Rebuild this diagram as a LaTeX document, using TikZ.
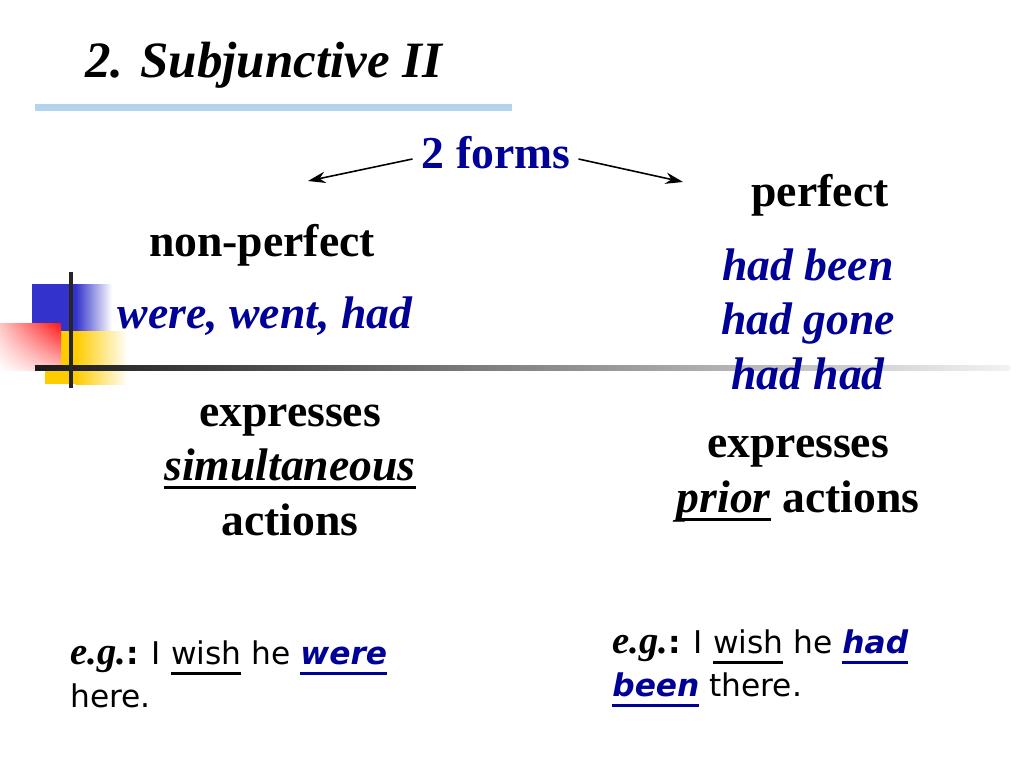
\documentclass[tikz,border=0pt]{standalone}
\usepackage{fontspec}
\setmainfont{Liberation Serif}
\newfontfamily\comicfont{DejaVu Sans}
\usetikzlibrary{arrows.meta,positioning,shadings}
\definecolor{formblue}{RGB}{0,0,150}
\definecolor{barblue} {RGB}{180,212,238}
\definecolor{sqblue}  {RGB}{51,51,204}
\definecolor{sqyellow}{RGB}{255,204,0}
\definecolor{sqred}   {RGB}{255,20,20}
% underline with a rule of our own
\newcommand\thickul[3][5pt]{\sbox0{#3}\rlap{\rule[-#1]{\wd0}{#2}}\usebox0}
\newcommand\egmark{{\rmfamily\bfseries\itshape\fontsize{22}{24}\selectfont e.g.}{\bfseries:}}

\begin{document}
\begin{tikzpicture}[
  x=0.02cm, y=-0.02cm,
  title/.style={font=\fontsize{29}{34}\selectfont\bfseries\itshape,
    anchor=base west, inner sep=0},
  head/.style={font=\fontsize{26}{31}\selectfont\bfseries,
    inner sep=0, align=center},
  verbs/.style={head, text=formblue,
    font=\fontsize{26}{31}\selectfont\bfseries\itshape},
  example/.style={font=\comicfont\fontsize{17.8}{24.5}\selectfont,
    inner sep=0, anchor=north west, align=left},
  arr/.style={-{Stealth[length=10pt,width=6.5pt]}, line width=0.9pt},
]
\useasboundingbox (0,0) rectangle (1024,767);

% coloured squares
\fill[sqblue] (32,284) rectangle (76,331);
\shade[left color=sqblue, right color=white] (75.5,284) rectangle (112,331);
\fill[sqyellow] (45,331) rectangle (76,384);
\shade[left color=sqyellow, right color=white] (75.5,331) rectangle (128,384);
\shade[upper left=sqred!25, upper right=sqred,
       lower left=white, lower right=sqred!25] (0,323) rectangle (61,370);

% cross lines
\shade[left color=black!90, right color=black!5] (35,365) rectangle (1010,370);
\fill[black!85] (69,272) rectangle (73,388);

% title
\node[title] (title) at (85,78) {2. Subjunctive II};
\fill[barblue] (35,104) rectangle (512,111);

\node[head, text=formblue] (forms) at (496,153) {2 forms};
\coordinate (ltip) at (308,181);
\coordinate (rtip) at (683,182);
\draw[arr] ([xshift=-0.18cm,yshift=-0.12cm]forms.west) -- (ltip);
\draw[arr] ([xshift=0.16cm,yshift=-0.12cm]forms.east) -- (rtip);

% non-perfect (left)
\node[head] (nonperf) at (262,245) {non-perfect};
\node[verbs] (nonperfverbs) at (265,316) {were, went, had};
\node[head] (simul) at (290,470)
  {expresses\\\thickul{1.8pt}{\itshape simultaneous}\\actions};

% perfect (right)
\node[head] (perf) at (820,195) {perfect};
\node[verbs] (perfverbs) at (808,319) {had been\\had gone\\had had};
\node[head] (prior) at (798,479)
  {expresses\\\thickul{1.8pt}{\itshape prior} actions};

% examples
\node[example] (exleft) at (70,640)
  {\egmark{} I \thickul[6pt]{1.3pt}{wish} he
   \textcolor{formblue}{\thickul[6pt]{1.3pt}{\bfseries\itshape were}}\\here.};
\node[example] (exright) at (612,629)
  {\egmark{} I \thickul[6pt]{1.3pt}{wish} he
   \textcolor{formblue}{\thickul[6pt]{1.3pt}{\bfseries\itshape had}}\\
   \textcolor{formblue}{\thickul[6pt]{1.3pt}{\bfseries\itshape been}} there.};

\end{tikzpicture}
\end{document}
